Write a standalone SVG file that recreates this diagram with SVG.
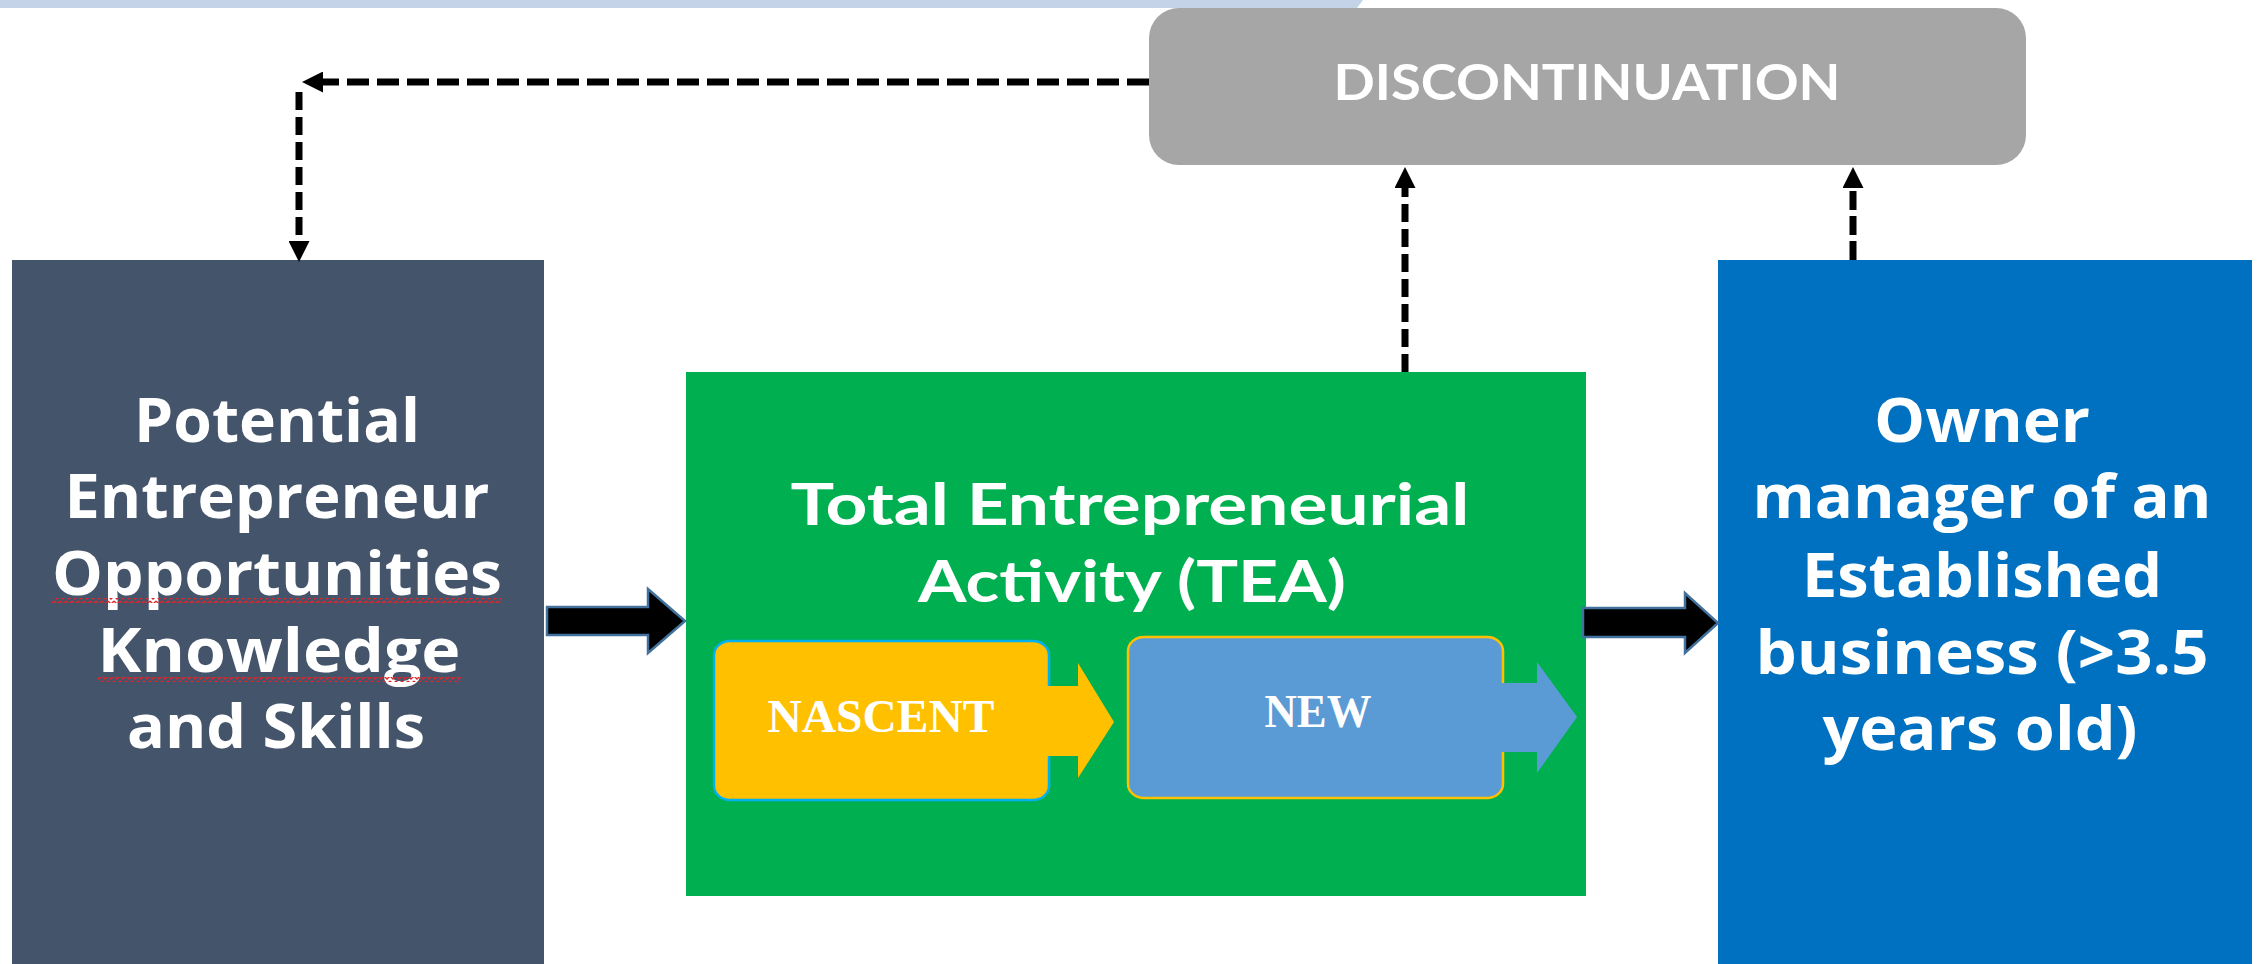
<svg xmlns="http://www.w3.org/2000/svg" width="2264" height="964" viewBox="0 0 2264 964">
<style>
.big{font-family:"Open Sans","DejaVu Sans",sans-serif;font-weight:bold;font-size:60px;fill:#fff;text-anchor:middle}
.cal{font-family:Lato,"Open Sans",sans-serif;font-weight:bold;fill:#fff;text-anchor:middle}
.ser{font-family:"Liberation Serif","Times New Roman",serif;font-weight:bold;font-size:46px;fill:#fff;text-anchor:middle}
.dash{fill:none;stroke:#000;stroke-width:7}
.blk{fill:#000;stroke:#41719C;stroke-width:2.5;stroke-linejoin:miter}
</style>
<defs>
<marker id="ah" viewBox="0 0 20 20" refX="0" refY="10" markerWidth="21" markerHeight="21" markerUnits="userSpaceOnUse" orient="auto">
<path d="M0,0 L20,10 L0,20 z" fill="#000"/>
</marker>
<pattern id="sq" x="0" y="0" width="6" height="5" patternUnits="userSpaceOnUse">
<polyline points="0,1 3,4 6,1" fill="none" stroke="#E0242A" stroke-width="1.3"/>
</pattern>
</defs>
<rect width="2264" height="964" fill="#fff"/>
<polygon points="0,0 1363,0 1357,8 0,8" fill="#C5D3E8"/>

<g id="discontinuation">
<rect x="1149" y="8" width="877" height="157" rx="30" ry="30" fill="#A6A6A6"/>
<text class="cal" x="1587" y="100" font-size="49" textLength="507" lengthAdjust="spacingAndGlyphs">DISCONTINUATION</text>
</g>

<g id="potential">
<rect x="12" y="260" width="532" height="710" fill="#44546A"/>
<text class="big" x="277" y="442" textLength="286" lengthAdjust="spacingAndGlyphs">Potential</text>
<text class="big" x="277" y="518" textLength="425" lengthAdjust="spacingAndGlyphs">Entrepreneur</text>
<text class="big" x="277" y="595" textLength="450" lengthAdjust="spacingAndGlyphs">Opportunities</text>
<text class="big" x="279" y="672" textLength="363" lengthAdjust="spacingAndGlyphs">Knowledge</text>
<text class="big" x="276" y="748" textLength="298" lengthAdjust="spacingAndGlyphs">and Skills</text>
<rect x="52" y="598" width="450" height="5" fill="url(#sq)"/>
<rect x="98" y="677" width="363" height="5" fill="url(#sq)"/>
</g>

<g id="tea">
<rect x="686" y="372" width="900" height="524" fill="#00B050"/>
<text class="cal" x="1130" y="525" font-size="57" textLength="679" lengthAdjust="spacingAndGlyphs">Total Entrepreneurial</text>
<text class="cal" x="1132" y="602" font-size="57" textLength="428" lengthAdjust="spacingAndGlyphs">Activity (TEA)</text>
</g>

<g id="nascent">
<rect x="714" y="641" width="335" height="159" rx="16" ry="14" fill="#FFC000" stroke="#00B0F0" stroke-width="2.5"/>
<polygon points="1047,686 1078,686 1078,663 1114,722 1078,778 1078,756 1047,756" fill="#FFC000"/>
<text class="ser" x="881" y="732" textLength="227" lengthAdjust="spacingAndGlyphs">NASCENT</text>
</g>

<g id="new">
<rect x="1128" y="637" width="375" height="161" rx="16" ry="14" fill="#5B9BD5" stroke="#FFC000" stroke-width="2.5"/>
<polygon points="1501,683 1537,683 1537,662 1577,717 1537,773 1537,752 1501,752" fill="#5B9BD5"/>
<text class="ser" x="1318" y="727" textLength="107" lengthAdjust="spacingAndGlyphs">NEW</text>
</g>

<g id="owner">
<rect x="1718" y="260" width="534" height="710" fill="#0070C0"/>
<text class="big" x="1982" y="442" textLength="216" lengthAdjust="spacingAndGlyphs">Owner</text>
<text class="big" x="1982" y="518" textLength="459" lengthAdjust="spacingAndGlyphs">manager of an</text>
<text class="big" x="1982" y="597" textLength="360" lengthAdjust="spacingAndGlyphs">Established</text>
<text class="big" x="1982" y="674" textLength="453" lengthAdjust="spacingAndGlyphs">business (&gt;3.5</text>
<text class="big" x="1980" y="750" textLength="315" lengthAdjust="spacingAndGlyphs">years old)</text>
</g>

<g id="connectors">
<path class="dash" d="M1149,82 H323" stroke-dasharray="22 8" marker-end="url(#ah)"/>
<path class="dash" d="M299,92 V241" stroke-dasharray="18 7" marker-end="url(#ah)"/>
<path class="dash" d="M1405,372 V188" stroke-dasharray="18 7" marker-end="url(#ah)"/>
<path class="dash" d="M1853,260 V188" stroke-dasharray="19 6" marker-end="url(#ah)"/>
<polygon class="blk" points="547,607 648,607 648,589 685,621 648,653 648,635 547,635"/>
<polygon class="blk" points="1583,608 1685,608 1685,593 1718,623 1685,653 1685,637 1583,637"/>
</g>
</svg>
